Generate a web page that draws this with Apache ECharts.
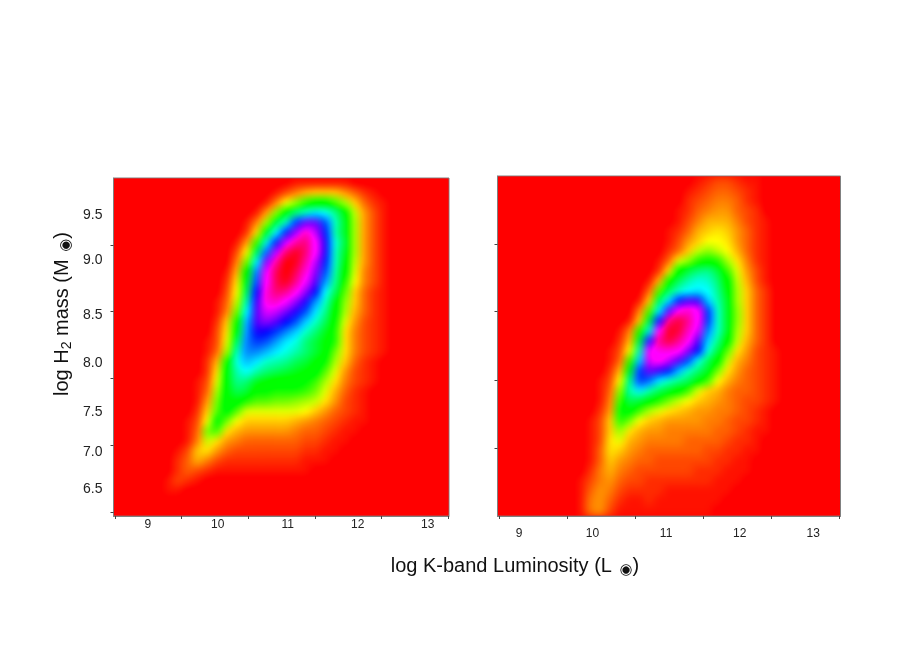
<!DOCTYPE html>
<html><head><meta charset="utf-8">
<style>html,body{margin:0;padding:0;background:#fff}#c{width:913px;height:646px}</style>
<script src="https://cdn.jsdelivr.net/npm/echarts@6/dist/echarts.min.js"></script>
</head><body><div id="c"></div>
<script>
// Density level on a colour wheel 0..60 (red, yellow, green, cyan, blue, magenta, red).
// Each row runs top to bottom: [first non-red column, values...]; everything else is level 0.
const leftRows = [
[18,1,1,1,1,1,1],
[16,1,3,5,7,8,8,8,6,4,2,1],
[15,1,5,10,14,18,20,20,17,13,8,4,2,1],
[14,1,6,14,21,25,28,31,30,26,21,12,6,3,1],
[13,1,5,13,23,28,38,44,44,37,28,22,13,6,3,1],
[13,2,9,22,30,39,46,53,47,39,27,22,13,6,3,1],
[12,1,6,17,29,39,48,54,56,50,41,29,23,13,6,3,1],
[12,3,10,24,36,47,56,59,56,50,41,28,22,13,6,3,1],
[12,5,15,30,45,54,60,59,54,47,39,28,21,12,6,3,1],
[11,1,7,20,35,49,57,60,57,52,45,37,27,20,11,5,3,1],
[11,2,9,22,37,50,57,59,55,49,43,34,26,18,10,5,3,1],
[11,3,10,24,40,52,56,55,51,45,40,30,24,16,8,4,2,1],
[10,1,4,12,27,42,52,53,49,45,41,34,28,21,14,8,4,2,1],
[10,1,5,15,30,43,48,47,44,41,37,31,26,20,13,7,4,2,1],
[10,2,8,19,33,43,45,43,40,37,32,28,24,19,11,6,3,2,1],
[10,3,9,21,34,41,40,38,35,32,28,25,22,18,9,5,3,2,1],
[9,1,3,11,24,35,38,37,34,31,29,25,23,21,18,9,5,3,2,1],
[9,1,4,13,27,35,35,33,31,29,27,25,23,21,15,9,5,3,2,1],
[9,2,7,19,29,33,31,28,27,26,24,23,21,19,13,8,4,2,1],
[9,2,9,21,27,30,27,25,24,23,22,21,20,16,11,6,3,2,1],
[8,1,3,11,21,26,25,22,21,20,20,20,19,17,13,9,5,3,2,1],
[8,1,4,13,21,24,23,19,19,18,18,18,17,15,11,7,4,2,1],
[8,1,6,15,21,21,18,16,16,15,15,14,13,12,9,6,3,2,1],
[8,2,8,16,20,16,11,11,11,11,11,11,10,8,6,4,3,2,1],
[7,1,3,10,20,15,10,8,8,8,8,8,7,6,5,4,3,2,1,1],
[7,1,4,15,17,9,7,6,6,6,6,6,5,4,4,3,2,1,1],
[7,1,5,12,9,6,5,4,4,4,4,4,4,3,3,2,1,1],
[6,1,3,8,9,6,4,3,3,3,3,3,3,3,2,2,1,1],
[6,2,4,7,5,3,2,2,2,2,2,2,2,2,1,1,1],
[6,2,4,3,2,1,1,1,1,1,1,1,1,1,1],
[5,1,3,2,1],
[5,1,1]
];
const rightRows = [
[20,1,2,3,3,2,1,1],
[19,1,2,3,4,4,3,2,1],
[19,2,3,4,5,5,4,2,1],
[18,1,2,4,5,6,6,4,3,2],
[18,1,3,5,7,7,7,5,3,2,1],
[17,1,2,4,7,8,9,8,6,4,2,1],
[17,1,3,6,8,10,10,9,6,4,2,1],
[17,2,4,8,12,14,12,10,7,4,2,1],
[16,1,4,11,14,18,19,18,13,9,5,2,1],
[16,2,9,20,23,25,26,23,17,11,6,3,1],
[15,1,7,19,24,27,29,28,25,20,12,7,3,1],
[15,4,16,24,28,30,31,30,26,21,13,8,4,2],
[14,1,8,24,31,39,43,42,32,27,22,13,8,4,2],
[14,5,16,30,43,51,53,50,38,28,22,14,8,4,2],
[13,1,8,23,40,55,58,55,50,38,28,22,14,8,4,2],
[12,1,5,18,29,50,59,58,53,48,35,28,22,13,8,4,2],
[12,2,7,23,41,55,58,55,51,43,32,26,20,12,7,4,2],
[11,1,3,10,27,49,52,52,51,45,40,29,23,16,9,6,3,2,1],
[11,1,4,17,32,48,50,47,43,37,29,24,20,12,7,5,3,2,1],
[11,2,7,22,38,44,42,39,33,28,25,22,15,9,6,4,3,2,1],
[10,1,3,10,26,38,36,31,28,26,24,21,17,10,7,5,4,3,2,1],
[10,1,4,14,27,31,27,24,22,20,17,11,8,7,5,4,4,3,2,1],
[10,1,5,17,24,23,21,18,15,12,10,8,7,6,5,4,3,3,2,1],
[10,2,6,19,21,17,13,11,9,8,7,6,6,5,5,4,3,2,1],
[9,1,3,8,18,15,10,8,7,6,6,6,6,5,5,4,3,3,2,1],
[9,1,3,8,14,9,7,6,6,5,5,5,5,5,4,4,3,2,1,1],
[9,1,3,9,11,7,6,5,5,5,5,4,4,4,4,3,2,2,1],
[9,1,4,9,8,6,5,4,4,4,4,4,4,3,3,2,2,1,1],
[9,1,4,8,6,5,4,4,3,3,3,3,3,3,2,2,1,1],
[9,2,5,7,5,4,3,3,3,3,3,3,2,2,2,1,1,1],
[8,1,3,5,6,4,3,3,2,2,2,2,2,2,2,1,1,1],
[8,1,4,6,5,3,2,2,2,2,1,1,1,1,1,1,1],
[8,1,5,6,4,2,1,1,2,1,1,1,1,1,1,1],
[8,1,5,6,3,1,1,1,1,1,1,1,1,1,1]
];
const wheelColors = ['#ff0000','#ffff00','#00ff00','#00ffff','#0000ff','#ff00ff','#ff0000'];
const xTickLabels = [9,10,11,12,13];
const yTickLabels = ['9.5','9.0','8.5','8.0','7.5','7.0','6.5'];
// The printed labels sit unevenly on the original, so each label has its own position on the axis.
const yLabelPos = [9.5,9.007,8.405,7.88,7.343,6.905,6.5];
const leftXTicks = [8.53,9.486,10.43,11.39,12.34,13.29];
const rightXTicks = [8.732,9.662,10.586,11.504,12.428,13.357];
const leftYTicks = [9.172,8.442,7.71,6.978,6.248];
const rightYTicks = [9.165,8.428,7.684,6.944];

const panels = [
 {rows:leftRows, cols:34, nrows:34, rect:{left:113.5,top:178,width:335.5,height:338}, xr:[8.511,13.304], xt:leftXTicks, yt:leftYTicks, xm:3, lab:true},
 {rows:rightRows, cols:35, nrows:34, rect:{left:497.5,top:176,width:343,height:340}, xr:[8.708,13.371], xt:rightXTicks, yt:rightYTicks, xm:12, lab:false}
];
const GRAY='#808080', INK='#222';
const grids=[],xAxes=[],yAxes=[],series=[];
panels.forEach((p,i)=>{
  grids.push(Object.assign({show:true,backgroundColor:'#ff0000',borderColor:GRAY,borderWidth:1,z:0},p.rect));
  const data=[];
  for(let r=0;r<p.nrows;r++){const row=p.rows[r]||[0];
    for(let c=0;c<p.cols;c++){const k=c-row[0]+1;data.push([c,r,(k>=1&&k<row.length)?row[k]:0]);}}
  xAxes.push({type:'category',gridIndex:i,show:false,data:Array.from({length:p.cols},(_,k)=>k)});
  yAxes.push({type:'category',gridIndex:i,show:false,inverse:true,data:Array.from({length:p.nrows},(_,k)=>k)});
  series.push({type:'heatmap',xAxisIndex:2*i,yAxisIndex:2*i,data,zlevel:1,progressive:0,animation:false});
  xAxes.push({type:'value',gridIndex:i,zlevel:2,min:p.xr[0],max:p.xr[1],position:'bottom',splitLine:{show:false},
    axisLine:{show:true,onZero:false,lineStyle:{color:GRAY}},
    axisTick:{show:true,length:3,customValues:p.xt,lineStyle:{color:'#444'}},
    axisLabel:{show:true,customValues:xTickLabels,margin:p.xm,color:INK,fontSize:12,fontFamily:'Liberation Sans'}});
  yAxes.push({type:'value',gridIndex:i,zlevel:2,min:6.204,max:9.905,position:'left',splitLine:{show:false},
    axisLine:{show:true,onZero:false,lineStyle:{color:GRAY}},
    axisTick:{show:true,length:3,customValues:p.yt,lineStyle:{color:'#444'}},
    axisLabel:p.lab?{show:true,customValues:yLabelPos,margin:11,color:INK,fontSize:14,fontFamily:'Liberation Sans',
      formatter:v=>yTickLabels[yLabelPos.indexOf(v)]}:{show:false}});
});
const rich={s:{fontSize:14,fontFamily:'Liberation Sans',fill:'#111',padding:[10,0,0,0]},
            o:{fontSize:15,fontFamily:'DejaVu Sans',fill:'#111',padding:[8,0,0,2]}};
const chart=echarts.init(document.getElementById('c'),null,{renderer:'canvas'});
chart.setOption({
  animation:false,backgroundColor:'transparent',
  grid:grids,xAxis:xAxes,yAxis:yAxes,series,
  visualMap:{show:false,type:'continuous',min:0,max:60,seriesIndex:[0,1],inRange:{color:wheelColors}},
  graphic:[
   {type:'text',zlevel:2,x:62,y:314,rotation:Math.PI/2,style:{text:'log H{s|2} mass (M {o|◉})',rich,
     fontSize:20,fontFamily:'Liberation Sans',fill:'#111',align:'center',verticalAlign:'middle'}},
   {type:'text',zlevel:2,x:515,y:566,style:{text:'log K-band Luminosity (L {o|◉})',rich,
     fontSize:20,fontFamily:'Liberation Sans',fill:'#111',align:'center',verticalAlign:'middle'}}
  ]
});
// Soften only the cell layer so the level grid reads as the smooth surface of the original.
const cv=document.querySelectorAll('#c canvas');
const heat=cv[1];
if(heat){
  const rr=panels.map(p=>{const r=p.rect,a=r.left+.5,b=r.top+.5,c=r.left+r.width-.5,d=r.top+r.height-.5;
    return `M${a} ${b}H${c}V${d}H${a}Z`;}).join('');
  heat.style.filter='blur(4px) saturate(1.2)';
  heat.style.clipPath=`path('${rr}')`;
}
</script></body></html>
